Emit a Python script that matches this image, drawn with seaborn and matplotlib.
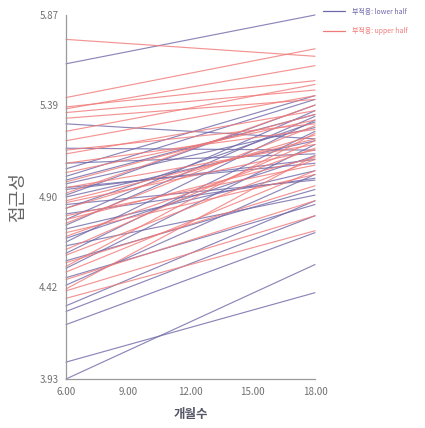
import numpy as np
import pandas as pd
import matplotlib
matplotlib.use("Agg")
import matplotlib.pyplot as plt
import seaborn as sns
from matplotlib.ticker import FixedLocator, MultipleLocator
from matplotlib.lines import Line2D

# ---- data (value at 6 months and at 18 months) ----
months = [6.0, 18.0]

lower_start = [5.61, 5.29, 5.16, 5.05, 5.01, 4.99, 4.97, 4.94, 4.91, 4.86, 4.78, 4.73,
               4.66, 4.56, 4.52, 4.47, 4.43, 4.32, 4.29, 4.22, 4.02, 3.93, 4.90, 4.64,
               4.84, 4.68, 4.60, 4.95, 5.08, 4.75, 4.81]
lower_end = [5.87, 5.21, 5.15, 5.44, 5.42, 5.34, 5.27, 5.10, 5.39, 4.99, 5.36, 5.04,
             5.31, 4.94, 5.18, 4.86, 5.02, 4.88, 4.80, 4.71, 4.39, 4.54, 5.20, 4.91,
             5.30, 5.12, 5.25, 5.08, 5.13, 5.33, 5.00]

upper_start = [5.74, 5.43, 5.37, 5.38, 5.35, 5.32, 5.25, 5.20, 5.13, 5.08, 5.03, 4.95,
               4.92, 4.87, 4.84, 4.80, 4.76, 4.71, 4.62, 4.59, 4.55, 4.50, 4.46, 4.41,
               4.36, 4.40, 4.98, 4.88, 4.69, 4.53, 5.15, 4.78]
upper_end = [5.65, 5.69, 5.60, 5.52, 5.47, 5.42, 5.50, 5.44, 5.36, 5.26, 5.31, 5.18,
             5.39, 5.15, 5.23, 5.07, 5.28, 5.02, 5.20, 5.10, 4.96, 5.04, 4.88, 5.12,
             4.72, 4.80, 5.34, 5.21, 5.16, 5.24, 5.29, 5.11]

group_labels = ["부적응: lower half", "부적응: upper half"]
x_ticks = [6.0, 9.0, 12.0, 15.0, 18.0]
x_tick_labels = ["6.00", "9.00", "12.00", "15.00", "18.00"]
y_ticks = [3.93, 4.42, 4.90, 5.39, 5.87]
y_tick_labels = ["3.93", "4.42", "4.90", "5.39", "5.87"]
x_title = "개월수"
y_title = "접근성"

# ---- long table ----
rows = []
uid = 0
for s, e in zip(lower_start, lower_end):
    rows.append((uid, months[0], s, group_labels[0]))
    rows.append((uid, months[1], e, group_labels[0]))
    uid += 1
for s, e in zip(upper_start, upper_end):
    rows.append((uid, months[0], s, group_labels[1]))
    rows.append((uid, months[1], e, group_labels[1]))
    uid += 1
df = pd.DataFrame(rows, columns=["id", "month", "value", "group"])

sns.set_style("white")
plt.rcParams["font.family"] = ["Noto Sans CJK KR", "DejaVu Sans"]

blue = "#6f68a8"
red = "#f07a78"
palette = {group_labels[0]: blue, group_labels[1]: red}

fig = plt.figure(figsize=(4.25, 4.28), dpi=100)
ax = fig.add_axes([66 / 425, 1 - 379 / 428, (315 - 66) / 425, (379 - 15) / 428])

sns.lineplot(data=df, x="month", y="value", hue="group", units="id", estimator=None,
             palette=palette, linewidth=0.85, alpha=0.8, legend=False, ax=ax)

ax.set_xlim(6.0, 18.0)
ax.set_ylim(3.93, 5.87)
for ln in ax.lines:
    ln.set_clip_on(False)

ax.xaxis.set_major_locator(FixedLocator(x_ticks))
ax.set_xticklabels(x_tick_labels)
ax.xaxis.set_minor_locator(MultipleLocator(0.6))
ax.yaxis.set_major_locator(FixedLocator(y_ticks))
ax.set_yticklabels(y_tick_labels)
ax.yaxis.set_minor_locator(FixedLocator(list(np.arange(3.93, 5.88, 0.097))))

for side in ["top", "right"]:
    ax.spines[side].set_visible(False)
for side in ["left", "bottom"]:
    ax.spines[side].set_color("#9a9a9a")
    ax.spines[side].set_linewidth(0.9)

ax.tick_params(axis="both", which="major", direction="out", length=4, width=0.8,
               color="#9a9a9a", labelsize=7, labelcolor="#707070", pad=1.5)
ax.tick_params(axis="both", which="minor", direction="out", length=2.5, width=0.7,
               color="#9a9a9a")

ax.set_xlabel(x_title, fontsize=9, color="#555566", fontweight="bold", labelpad=8)
ax.set_ylabel(y_title, fontsize=13, color="#666666", labelpad=9)

handles = [Line2D([0], [0], color=blue, lw=0.9), Line2D([0], [0], color=red, lw=0.9)]
leg = fig.legend(handles, group_labels, loc="upper left", bbox_to_anchor=(318 / 425, 1 - 3 / 428),
                 frameon=False, fontsize=5.0, handlelength=3.2, labelspacing=1.6,
                 handletextpad=1.0, borderpad=0.2)
for t, c in zip(leg.get_texts(), [blue, red]):
    t.set_color(c)

fig.savefig("out.png", dpi=100)
